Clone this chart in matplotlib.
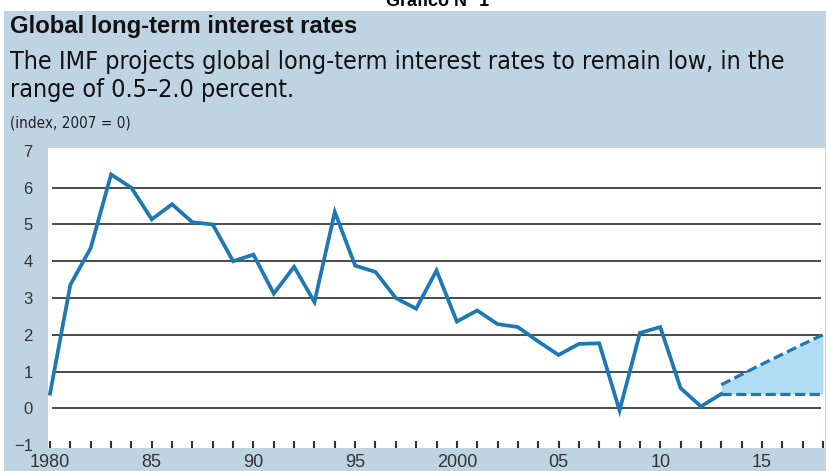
import matplotlib.pyplot as plt
from matplotlib import font_manager
from matplotlib.patches import Rectangle

# annual series, index 2007 = 0
years = list(range(1980, 2014))
rates = [0.4, 3.36, 4.36, 6.36, 6.0, 5.14, 5.55, 5.06, 5.0, 4.0,
         4.18, 3.12, 3.85, 2.89, 5.34, 3.88, 3.71, 3.0, 2.71, 3.75,
         2.36, 2.66, 2.29, 2.21, 1.82, 1.45, 1.75, 1.77, -0.06, 2.05,
         2.21, 0.55, 0.05, 0.39]

# IMF projection band
proj_years = [2013, 2014, 2015, 2016, 2017, 2018]
proj_low = [0.39, 0.39, 0.39, 0.39, 0.39, 0.39]
proj_high = [0.64, 0.92, 1.2, 1.47, 1.74, 2.0]

xtick_pos = [1980, 1985, 1990, 1995, 2000, 2005, 2010, 2015]
xtick_labels = ["1980", "85", "90", "95", "2000", "05", "10", "15"]
yticks = [-1, 0, 1, 2, 3, 4, 5, 6, 7]

BG = "#bfd4e3"
LINE = "#1d78b4"
FILL = "#b0ddf4"
GRID = "#4a4a4a"


def narrow_font():
    # prefer a condensed face for the subtitle if one is installed
    for fam, st in [("Liberation Sans Narrow", "normal"),
                    ("DejaVu Sans", "condensed")]:
        try:
            path = font_manager.findfont(
                font_manager.FontProperties(family=fam, stretch=st),
                fallback_to_default=False)
        except Exception:
            continue
        if "Narrow" in path or "Condensed" in path:
            return font_manager.FontProperties(fname=path), True
    return font_manager.FontProperties(family="Liberation Sans"), False


sub_fp, condensed = narrow_font()
sub_size = 18 if condensed else 16.5

fig = plt.figure(figsize=(8.26, 4.71), dpi=100)
fig.patch.set_facecolor("white")
fig.patches.append(Rectangle((4 / 826, 0), 1, (471 - 11) / 471,
                             transform=fig.transFigure, facecolor=BG,
                             edgecolor="none", zorder=-5))

fig.text(0.53, 1 - 2 / 471, "Gráfico N° 1", ha="center", va="center",
         fontsize=13, fontweight="bold", family="Liberation Sans")
fig.text(10 / 826, 1 - 26 / 471, "Global long-term interest rates",
         ha="left", va="center", fontsize=17.2, fontweight="bold",
         family="Liberation Sans", color="#111111")
fig.text(10 / 826, 1 - 62 / 471,
         "The IMF projects global long-term interest rates to remain low, in the",
         ha="left", va="center", fontproperties=sub_fp, fontsize=sub_size,
         color="#111111")
fig.text(10 / 826, 1 - 90 / 471, "range of 0.5\u20132.0 percent.",
         ha="left", va="center", fontproperties=sub_fp, fontsize=sub_size,
         color="#111111")
fig.text(10 / 826, 1 - 123 / 471, "(index, 2007 = 0)",
         ha="left", va="center", fontproperties=sub_fp, fontsize=11,
         color="#222222")

ax = fig.add_axes([48 / 826, 23 / 471, (825 - 48) / 826, (448 - 148) / 471])
ax.set_zorder(2)
ax.set_facecolor("white")
ax.set_xlim(1979.9, 2018.1)
ax.set_ylim(-1.08, 7.08)

ax.hlines([0, 1, 2, 3, 4, 5, 6], 1980.1, 2017.9, color=GRID, lw=1.4, zorder=1)

dash = (0, (3.2, 1.4))
ax.fill_between(proj_years, proj_low, proj_high, color=FILL, lw=0, zorder=2)
ax.plot(proj_years, proj_low, color=LINE, lw=2.3, ls=dash, zorder=3)
ax.plot(proj_years, proj_high, color=LINE, lw=2.3, ls=dash, zorder=3)
ax.plot(years, rates, color=LINE, lw=2.7, solid_joinstyle="miter", zorder=4)

for s in ax.spines.values():
    s.set_visible(False)

ax.set_yticks(yticks)
ax.set_yticklabels([str(v).replace("-", "\u2212") for v in yticks])
ax.tick_params(axis="y", length=0, pad=11, labelsize=12, labelcolor="#333333")

ax.set_xticks(list(range(1980, 2019)))
ax.set_xticklabels([xtick_labels[xtick_pos.index(y)] if y in xtick_pos else ""
                    for y in range(1980, 2019)])
ax.tick_params(axis="x", direction="in", length=5, width=1.5, color="#333333",
               pad=4, labelsize=13, labelcolor="#333333")
for lab in ax.get_xticklabels() + ax.get_yticklabels():
    lab.set_family("Liberation Sans")

fig.savefig("out.png", dpi=100, facecolor=fig.get_facecolor())
